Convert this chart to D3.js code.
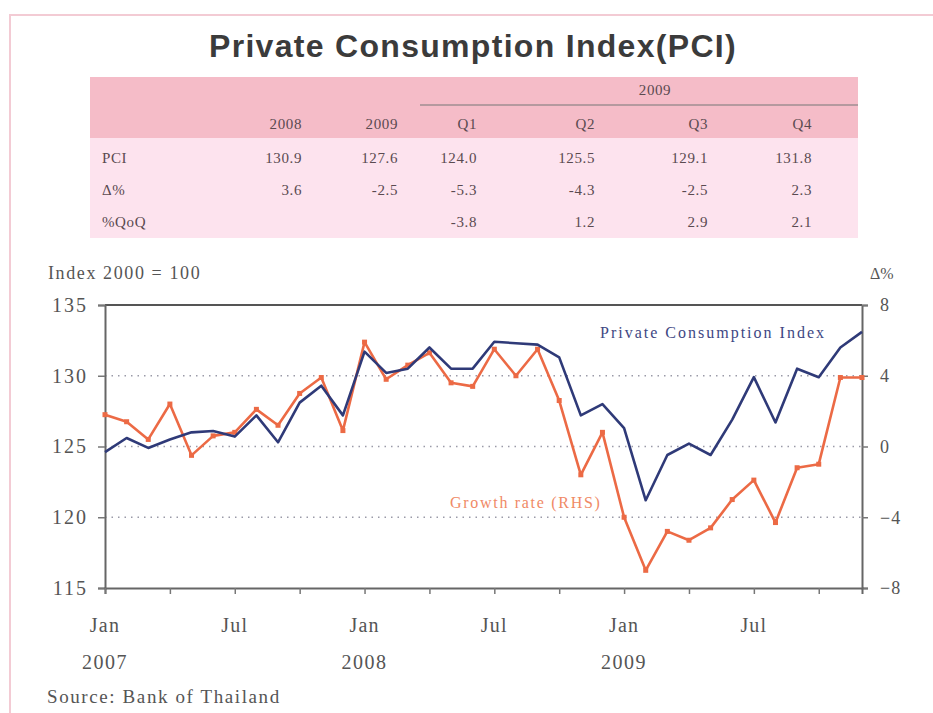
<!DOCTYPE html>
<html><head><meta charset="utf-8">
<script src="https://cdn.jsdelivr.net/npm/d3@7"></script>
<style>body{margin:0;background:#fff}svg{display:block}</style>
</head><body><svg id="c" width="933" height="713"></svg>
<script>
// ---- data ----
const tableCols = ["2008","2009","Q1","Q2","Q3","Q4"];
const tableRowLabels = ["PCI","Δ%","%QoQ"];
const tablePCI = ["130.9","127.6","124.0","125.5","129.1","131.8"];
const tableDelta = ["3.6","-2.5","-5.3","-4.3","-2.5","2.3"];
const tableQoQ = ["","","-3.8","1.2","2.9","2.1"];
const months = d3.range(36); // Jan 2007 .. Dec 2009
const pci = [124.6,125.6,124.9,125.5,126.0,126.1,125.7,127.2,125.3,128.1,129.3,127.2,
             131.7,130.2,130.5,132.0,130.5,130.5,132.4,132.3,132.2,131.3,127.2,128.0,
             126.3,121.2,124.4,125.2,124.4,126.9,129.9,126.7,130.5,129.9,132.0,133.1];
const growth = [1.8,1.4,0.4,2.4,-0.5,0.6,0.8,2.1,1.2,3.0,3.9,0.9,
                5.9,3.8,4.6,5.3,3.6,3.4,5.5,4.0,5.5,2.6,-1.6,0.8,
                -4.0,-7.0,-4.8,-5.3,-4.6,-3.0,-1.9,-4.3,-1.2,-1.0,3.9,3.9];
const leftTicks = [115,120,125,130,135];
const rightTicks = [-8,-4,0,4,8];
const monthLabels = {0:"Jan",6:"Jul",12:"Jan",18:"Jul",24:"Jan",30:"Jul"};
const yearLabels = {0:"2007",12:"2008",24:"2009"};

const svg = d3.select("#c");
const serif = "'Liberation Serif','DejaVu Serif',serif";

// frame
svg.append("rect").attr("x",10).attr("y",15).attr("width",930).attr("height",710)
  .attr("fill","none").attr("stroke","#f3cbd4").attr("stroke-width",2);

// title
svg.append("text").attr("x",473).attr("y",57).attr("text-anchor","middle")
  .attr("font-family","'Liberation Sans',Arial,sans-serif").attr("font-weight","bold")
  .attr("font-size",32).attr("letter-spacing",1.3).attr("fill","#3b3b3b").text("Private Consumption Index(PCI)");

// table
const tx0 = 90, tx1 = 858;
svg.append("rect").attr("x",tx0).attr("y",77).attr("width",tx1-tx0).attr("height",61).attr("fill","#f5bcc8");
svg.append("rect").attr("x",tx0).attr("y",138).attr("width",tx1-tx0).attr("height",100).attr("fill","#fde3ee");
svg.append("line").attr("x1",420).attr("x2",tx1).attr("y1",105).attr("y2",105).attr("stroke","#777").attr("stroke-width",1.2);
const colRight = d3.scaleOrdinal().domain(tableCols).range([302,398,477,595,708,812]);
function ttext(x,y,t,anchor){
  svg.append("text").attr("x",x).attr("y",y).attr("text-anchor",anchor||"end")
    .attr("font-family",serif).attr("font-size",15).attr("letter-spacing",0.6).attr("fill","#5a4a50").text(t);
}
ttext(655,95,"2009","middle");
tableCols.forEach(c=>ttext(colRight(c),129,c));
const rowsY = [163,195,227];
tableRowLabels.forEach((r,i)=>ttext(102,rowsY[i],r,"start"));
[tablePCI,tableDelta,tableQoQ].forEach((row,i)=>row.forEach((v,j)=>{ if(v) ttext(colRight(tableCols[j]),rowsY[i],v);}));

// chart
const x = d3.scaleLinear().domain([0,35]).range([105,862]);
const yL = d3.scaleLinear().domain([115,135]).range([588,305]);
const yR = d3.scaleLinear().domain([-8,8]).range([588,305]);

// gridlines
svg.append("g").selectAll("line").data([120,125,130]).join("line")
  .attr("x1",105).attr("x2",862).attr("y1",d=>yL(d)).attr("y2",d=>yL(d))
  .attr("stroke","#9a9aa8").attr("stroke-width",1.6).attr("stroke-dasharray","1.5,5");

// top border
svg.append("line").attr("x1",105).attr("x2",862).attr("y1",yL(135)).attr("y2",yL(135))
  .attr("stroke","#555").attr("stroke-width",2);

// left axis
const gL = svg.append("g").attr("transform","translate(105,0)")
  .call(d3.axisLeft(yL).tickValues(leftTicks).tickSize(7).tickPadding(10));
// right axis
const gR = svg.append("g").attr("transform","translate(862,0)")
  .call(d3.axisRight(yR).tickValues(rightTicks).tickSize(6).tickPadding(12));
// bottom axis
const gB = svg.append("g").attr("transform",`translate(0,${yL(115)})`)
  .call(d3.axisBottom(x).tickValues(d3.range(0,36,3)).tickSize(6).tickFormat(""));
[gL,gR,gB].forEach(g=>{
  g.select(".domain").attr("stroke","#666").attr("stroke-width",2);
  g.selectAll(".tick line").attr("stroke","#777").attr("stroke-width",1.5);
  g.selectAll("text").attr("font-family",serif).attr("font-size",20).attr("fill","#555").attr("letter-spacing",2);
});
gR.selectAll("text").attr("font-size",18).attr("letter-spacing",1);

// x labels
svg.append("g").selectAll("text").data(Object.keys(monthLabels)).join("text")
  .attr("x",d=>x(+d)).attr("y",632).attr("text-anchor","middle")
  .attr("font-family",serif).attr("font-size",20).attr("letter-spacing",1.2).attr("fill","#555").text(d=>monthLabels[d]);
svg.append("g").selectAll("text").data(Object.keys(yearLabels)).join("text")
  .attr("x",d=>x(+d)).attr("y",669).attr("text-anchor","middle")
  .attr("font-family",serif).attr("font-size",20).attr("letter-spacing",1.5).attr("fill","#555").text(d=>yearLabels[d]);

// axis titles
svg.append("text").attr("x",48).attr("y",279).attr("font-family",serif).attr("font-size",18).attr("letter-spacing",1.6).attr("fill","#555").text("Index 2000 = 100");
svg.append("text").attr("x",870).attr("y",279).attr("font-family",serif).attr("font-size",16).attr("fill","#555").text("Δ%");

// lines
const lineL = d3.line().x((d,i)=>x(months[i])).y(d=>yL(d));
const lineR = d3.line().x((d,i)=>x(months[i])).y(d=>yR(d));
svg.append("path").datum(growth).attr("d",lineR).attr("fill","none")
  .attr("stroke","#ec6a45").attr("stroke-width",2.6).attr("stroke-linejoin","round");
svg.append("g").selectAll("rect").data(growth).join("rect")
  .attr("x",(d,i)=>x(months[i])-2.5).attr("y",d=>yR(d)-2.5).attr("width",5).attr("height",5)
  .attr("fill","#ec6a45");
svg.append("path").datum(pci).attr("d",lineL).attr("fill","none")
  .attr("stroke","#2f3a78").attr("stroke-width",2.6).attr("stroke-linejoin","round");

// series labels
svg.append("text").attr("x",600).attr("y",338).attr("font-family",serif).attr("font-size",16).attr("letter-spacing",2).attr("fill","#3e4783").text("Private Consumption Index");
svg.append("text").attr("x",450).attr("y",508).attr("font-family",serif).attr("font-size",16).attr("letter-spacing",1.7).attr("fill","#f08a66").text("Growth rate (RHS)");

// source
svg.append("text").attr("x",47).attr("y",703).attr("font-family",serif).attr("font-size",19).attr("letter-spacing",1.6).attr("fill","#555").text("Source: Bank of Thailand");
</script></body></html>
